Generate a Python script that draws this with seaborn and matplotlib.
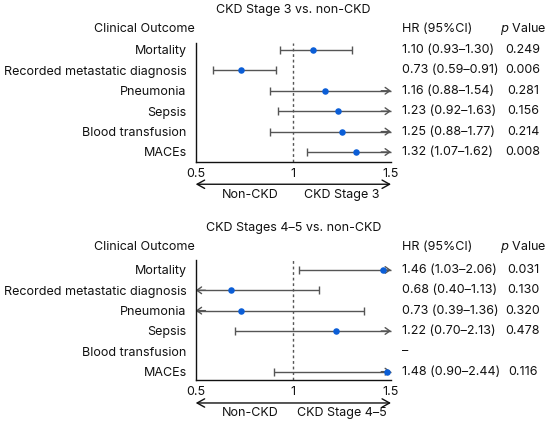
import numpy as np
import pandas as pd
import matplotlib
matplotlib.use("Agg")
import matplotlib.pyplot as plt
import seaborn as sns

outcomes = ["Mortality", "Recorded metastatic diagnosis", "Pneumonia",
            "Sepsis", "Blood transfusion", "MACEs"]
hr3 = [1.10, 0.73, 1.16, 1.23, 1.25, 1.32]
lo3 = [0.93, 0.59, 0.88, 0.92, 0.88, 1.07]
hi3 = [1.30, 0.91, 1.54, 1.63, 1.77, 1.62]
p3 = ["0.249", "0.006", "0.281", "0.156", "0.214", "0.008"]

hr45 = [1.46, 0.68, 0.73, 1.22, np.nan, 1.48]
lo45 = [1.03, 0.40, 0.39, 0.70, np.nan, 0.90]
hi45 = [2.06, 1.13, 1.36, 2.13, np.nan, 2.44]
p45 = ["0.031", "0.130", "0.320", "0.478", "", "0.116"]

titles = ["CKD Stage 3 vs. non-CKD", "CKD Stages 4\u20135 vs. non-CKD"]
right_labels = ["CKD Stage 3", "CKD Stage 4\u20135"]
left_label = "Non-CKD"
xticks = [0.5, 1, 1.5]
xticklabels = ["0.5", "1", "1.5"]

sns.set_theme(style="white")
FONT = "Inter"
plt.rcParams["font.family"] = [FONT, "DejaVu Sans"]
FS = 9

BLUE = "#0b5ed7"
GRAY = "#555555"
TXT = "#111111"

fig = plt.figure(figsize=(5.5, 4.25), dpi=100)

W, H = 550, 425
x0, x1 = 195.7, 391.0
panels = [
    dict(top=43, bottom=162, ylim=(5.49, -0.34), hr=hr3, lo=lo3, hi=hi3, p=p3,
         title_y=-1.96, head_y=-1.03, arrow_y=6.58, lab_y=7.11),
    dict(top=260, bottom=380, ylim=(5.41, -0.49), hr=hr45, lo=lo45, hi=hi45, p=p45,
         title_y=-2.07, head_y=-1.13, arrow_y=6.54, lab_y=7.04),
]

def px2x(px):
    return 0.5 + (px - x0) / (x1 - x0)

for i, pnl in enumerate(panels):
    ax = fig.add_axes([x0 / W, 1 - pnl["bottom"] / H, (x1 - x0) / W,
                       (pnl["bottom"] - pnl["top"]) / H])
    df = pd.DataFrame({"outcome": outcomes, "row": np.arange(len(outcomes)),
                       "hr": pnl["hr"], "lo": pnl["lo"], "hi": pnl["hi"],
                       "p": pnl["p"]})
    ax.set_xlim(0.5, 1.5)
    ax.set_ylim(*pnl["ylim"])
    ax.axvline(1, color=GRAY, lw=1, ls=(0, (2, 2)), zorder=1)

    for _, r in df.iterrows():
        if np.isnan(r.hr):
            continue
        lo_c = max(r.lo, 0.5)
        hi_c = min(r.hi, 1.5)
        ax.plot([lo_c, hi_c], [r.row, r.row], color=GRAY, lw=1, zorder=2,
                clip_on=False, solid_capstyle="butt")
        for val, clipped, sgn in [(lo_c, r.lo < 0.5, -1),
                                  (hi_c, r.hi > 1.5, 1)]:
            if clipped:
                ax.annotate("", xy=(val, r.row), xytext=(val - sgn * 0.05, r.row),
                            arrowprops=dict(arrowstyle="->,head_length=0.28,head_width=0.2",
                                            color=GRAY, lw=1, shrinkA=0, shrinkB=0),
                            annotation_clip=False, zorder=2)
            else:
                ax.plot([val], [r.row], marker="|", ms=6, mew=1, color=GRAY,
                        clip_on=False, zorder=2)

    sns.scatterplot(data=df.dropna(subset=["hr"]), x="hr", y="row", ax=ax,
                    color=BLUE, s=22, edgecolor=BLUE, linewidth=0, zorder=3,
                    clip_on=False, legend=False)

    ax.set_xlabel("")
    ax.set_ylabel("")
    ax.set_yticks(df["row"])
    ax.set_yticklabels(outcomes, fontsize=FS, color=TXT)
    ax.set_xticks(xticks)
    ax.set_xticklabels(xticklabels, fontsize=FS, color=TXT)
    ax.tick_params(axis="y", length=0, pad=6.5)
    ax.tick_params(axis="x", direction="in", length=3, width=1, color=TXT, pad=4)
    for s in ["top", "right"]:
        ax.spines[s].set_visible(False)
    for s in ["left", "bottom"]:
        ax.spines[s].set_color(TXT)
        ax.spines[s].set_linewidth(1)

    ax.text(1.0, pnl["title_y"], titles[i], ha="center", va="center",
            fontsize=FS, color=TXT, clip_on=False)
    ax.text(px2x(195), pnl["head_y"], "Clinical Outcome", ha="right",
            va="center", fontsize=FS, color=TXT)
    hr_x = px2x(401.7)
    p_x = px2x(523)
    ax.text(hr_x, pnl["head_y"], "HR (95%CI)", ha="left", va="center",
            fontsize=FS, color=TXT)
    ax.text(p_x, pnl["head_y"], r"$\it{p}$ Value", ha="center", va="center",
            fontsize=FS, color=TXT)
    for _, r in df.iterrows():
        if np.isnan(r.hr):
            s = "\u2013"
        else:
            s = f"{r.hr:.2f} ({r.lo:.2f}\u2013{r.hi:.2f})"
        ax.text(hr_x, r.row, s, ha="left", va="center", fontsize=FS, color=TXT)
        ax.text(p_x, r.row, r.p, ha="center", va="center", fontsize=FS, color=TXT)

    ax.annotate("", xy=(1.5, pnl["arrow_y"]), xytext=(0.5, pnl["arrow_y"]),
                arrowprops=dict(arrowstyle="<->,head_length=0.45,head_width=0.25",
                                color=TXT, lw=1, shrinkA=0, shrinkB=0),
                annotation_clip=False)
    ax.text(px2x(250.5), pnl["lab_y"], left_label, ha="center", va="center",
            fontsize=FS, color=TXT)
    ax.text(px2x(341.7), pnl["lab_y"], right_labels[i], ha="center", va="center",
            fontsize=FS, color=TXT)

fig.savefig("out.png", dpi=100)
